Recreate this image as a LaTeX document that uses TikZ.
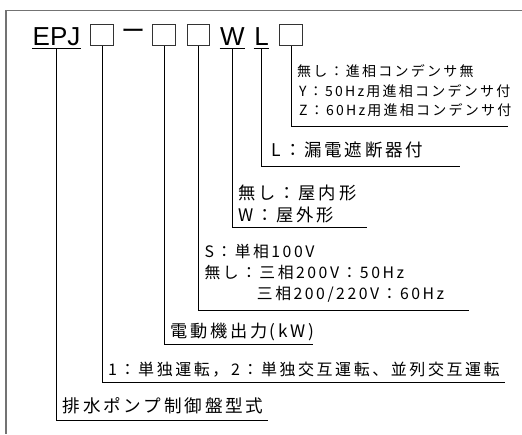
\documentclass[tikz,border=0pt]{standalone}
\usepackage{fontspec}
\setmainfont{Liberation Sans}
\newfontfamily\jp[LetterSpace=16]{Noto Sans CJK JP}
\newfontfamily\jpdash{Noto Sans CJK JP}
\usepackage{tikz}
\newcommand{\linecolor}{black}
\newcommand{\framecolor}{black!55}
\newcommand{\jpat}[2]{\jp\fontsize{#1}{#2}\selectfont}
\tikzset{
  code/.style={anchor=base, inner xsep=0.5pt, inner ysep=3pt, text depth=0pt,
    font=\fontsize{26}{30}\selectfont},
  cbox/.style={draw=black!80, line width=0.8pt, minimum width=22.5pt,
    minimum height=21.5pt, inner sep=0pt},
  conn/.style={draw=\linecolor, line width=0.9pt},
  lbl/.style={anchor=south west, inner xsep=6pt, align=left}
}

\begin{document}
\begin{tikzpicture}[x=1pt,y=-1pt]
\useasboundingbox (0,0) rectangle (522,434);
\draw[\framecolor, line width=1.4pt] (522,10.5) -- (6,10.5) -- (6,434);
% model code
\node[code] (epj) at (56.5,45) {EPJ};
\node[cbox] (bx1) at (102,35) {};
\node[inner sep=0pt, font=\jpdash\fontsize{24}{24}\selectfont] (dash) at (133.3,34.5) {ー};
\node[cbox] (bx2) at (164,35) {};
\node[cbox] (bx3) at (198.3,35) {};
\node[code] (w) at (232.5,45) {W};
\node[code] (l) at (261.5,45) {L};
\node[cbox] (bx4) at (291,35) {};
\draw[conn] (epj.south west) -- (epj.south east);
\draw[conn] (w.south west) -- (w.south east);
\draw[conn] (l.south west) -- (l.south east);
% ends of the lines
\coordinate (e4) at (508,126);
\coordinate (el) at (460,166.7);
\coordinate (ew) at (367,227.7);
\coordinate (e3) at (469,310.7);
\coordinate (e2) at (313,344);
\coordinate (e1) at (505,382.7);
\coordinate (eepj) at (268,420.7);
% labels
\node[lbl, inner ysep=9pt, font=\jpat{14}{19.5}] (t4) at (bx4.south |- e4)
  {無し：進相コンデンサ無\\\hspace{2pt}Y：50Hz用進相コンデンサ付\\\hspace{2pt}Z：60Hz用進相コンデンサ付};
\node[lbl, inner ysep=8pt, font=\jpat{17.5}{21}] (tl) at (l.south |- el)
  {\hspace{4pt}L：漏電遮断器付};
\node[lbl, inner ysep=5pt, font=\jpat{17.3}{21.5}] (tw) at (w.south |- ew)
  {無し：屋内形\\W：屋外形};
\node[lbl, inner ysep=8pt, font=\jpat{15.8}{21}] (t3) at (bx3.south |- e3)
  {S：単相100V\\無し：三相200V：50Hz\\\phantom{無し：}三相200/220V：60Hz};
\node[lbl, inner ysep=3pt, font=\jpat{17.2}{21}] (t2) at (bx2.south |- e2)
  {電動機出力(kW)};
\node[lbl, inner ysep=5pt, font=\jpat{16}{21}] (t1) at (bx1.south |- e1)
  {1：単独運転，2：単独交互運転、並列交互運転};
\node[lbl, inner ysep=7pt, font=\jpat{17.6}{21}] (tepj) at (epj.south |- eepj)
  {排水ポンプ制御盤型式};
% connectors
\draw[conn] (bx4.south) |- (e4);
\draw[conn] (l.south) |- (el);
\draw[conn] (w.south) |- (ew);
\draw[conn] (bx3.south) |- (e3);
\draw[conn] (bx2.south) |- (e2);
\draw[conn] (bx1.south) |- (e1);
\draw[conn] (epj.south) |- (eepj);
\end{tikzpicture}
\end{document}
